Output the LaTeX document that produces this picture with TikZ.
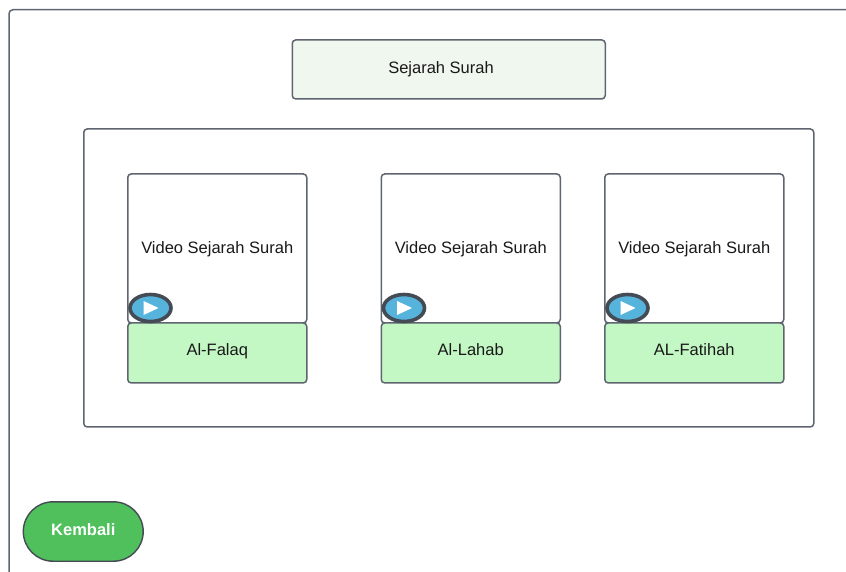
\documentclass[tikz,border=0pt]{standalone}
\usepackage{fontspec}
\setmainfont{Liberation Sans}
\usetikzlibrary{shapes.geometric}
\definecolor{edge}{HTML}{5E6570}
\definecolor{titlefill}{HTML}{F0F7EE}
\definecolor{labelfill}{HTML}{C3F7C4}
\definecolor{btnfill}{HTML}{4FC05B}
\definecolor{playfill}{HTML}{56B4DC}
\definecolor{playring}{HTML}{454B54}
\tikzset{
  x=1pt,y=-1pt,
  txt/.style={font=\fontsize{16.5}{18}\selectfont,text=black!90,text height=12pt,text depth=3.5pt},
  box/.style={draw=edge,line width=1.5pt,rounded corners=3.5pt,fill=white,inner sep=0pt,anchor=north west,txt},
  videobox/.style={box,minimum width=179pt,minimum height=149pt,text height=14.5pt,text depth=3.5pt},
  labelbox/.style={box,fill=labelfill,minimum width=179pt,minimum height=60pt,text height=12pt,text depth=7.5pt},
  playring/.style={draw=playring,line width=3.6pt,fill=playfill,ellipse,minimum width=41pt,minimum height=27pt,inner sep=0pt},
  backshape/.style={draw=playring,line width=1.4pt,fill=btnfill},
  backbtn/.style={inner sep=0pt,text=white,font=\fontsize{16.5}{18}\selectfont\bfseries,text height=12pt,text depth=4.5pt},
}
\begin{document}
\begin{tikzpicture}
\useasboundingbox (0,0) rectangle (846,571);
\clip (0,0) rectangle (846,571);
\draw[draw=edge,line width=1.5pt,rounded corners=4pt] (860,9.7) -- (9,9.7) -- (9,590);
\node[box,fill=titlefill,minimum width=313pt,minimum height=59pt] (title) at (291.5,39.2) {};
\node[txt] (titletext) at (441,69.4) {Sejarah Surah};
\node[box,minimum width=730pt,minimum height=298pt] (panel) at (83,128.2) {};
\foreach \n/\x/\lab in {a/127/Al-Falaq,b/380.5/Al-Lahab,c/604/AL-Fatihah}{
  \node[videobox] (v\n) at (\x,173.2) {Video Sejarah Surah};
  \node[labelbox] (l\n) at (\x,322.2) {\lab};
  \node[playring] (p\n) at (\x+23.5,308) {};
  \fill[white] ([xshift=-7pt,yshift=-7pt]p\n.center) -- ([xshift=8pt]p\n.center) -- ([xshift=-7pt,yshift=7pt]p\n.center) -- cycle;
}
\draw[backshape] (53,501.8) arc[start angle=90,end angle=270,radius=29.7pt] -- (113.5,561.2) arc[start angle=-90,end angle=90,radius=29.7pt] -- cycle;
\node[backbtn] (back) at (83.3,531.5) {Kembali};
\end{tikzpicture}
\end{document}
